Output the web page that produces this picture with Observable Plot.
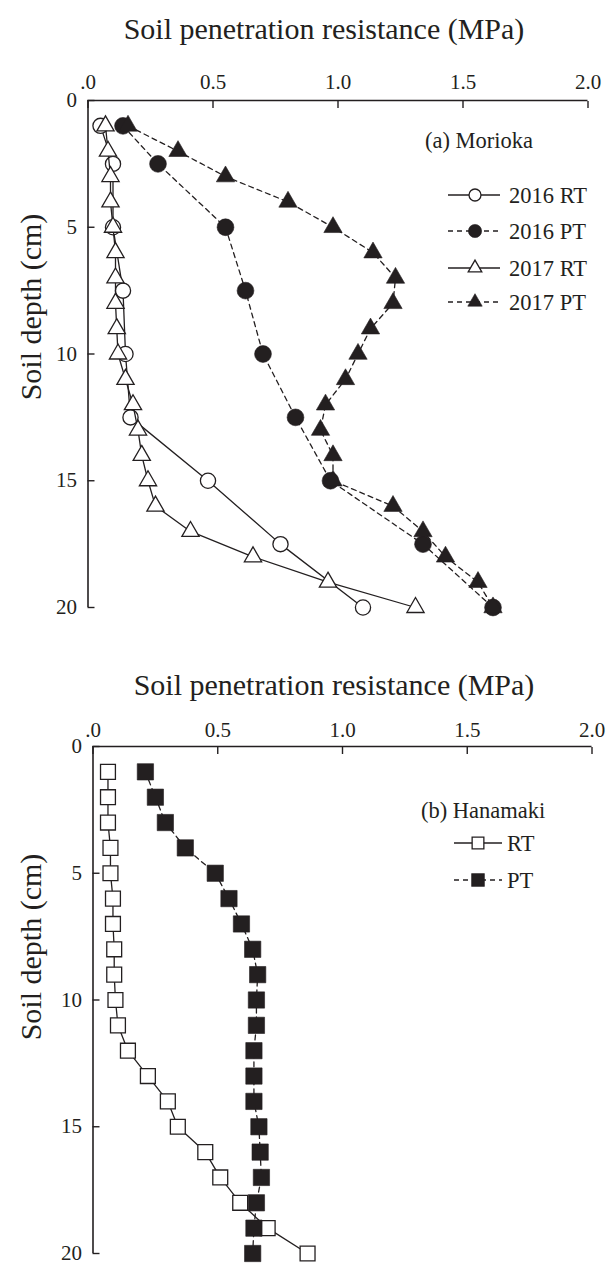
<!DOCTYPE html>
<html><head><meta charset="utf-8">
<script src="https://cdn.jsdelivr.net/npm/d3@7"></script>
<script src="https://cdn.jsdelivr.net/npm/@observablehq/plot@0.6"></script>
<style>
html,body{margin:0;padding:0;background:#fff;}
#wrap{position:relative;width:606px;height:1263px;overflow:hidden;font-family:"Liberation Serif","Times New Roman",serif;color:#231f20;}
.title{position:absolute;font-size:30px;white-space:nowrap;transform:translateX(-50%);line-height:1;}
.ylab{position:absolute;font-size:30px;white-space:nowrap;transform:translate(-50%,-50%) rotate(-90deg);line-height:1;}
.panel{position:absolute;left:0;}
svg text{font-family:"Liberation Serif","Times New Roman",serif;}
</style></head><body><div id="wrap"></div>
<script>
// ---- data ----
const xTicks = [0, 0.5, 1, 1.5, 2];
const xTickLabels = [".0", "0.5", "1.0", "1.5", "2.0"];
const yTicks = [0, 5, 10, 15, 20];
const xTitle = "Soil penetration resistance (MPa)";
const yTitle = "Soil depth (cm)";

// (a) Morioka
const depth2016 = [1, 2.5, 5, 7.5, 10, 12.5, 15, 17.5, 20];
const rt2016 = [0.05, 0.10, 0.10, 0.14, 0.15, 0.17, 0.48, 0.77, 1.10];
const pt2016 = [0.14, 0.28, 0.55, 0.63, 0.70, 0.83, 0.97, 1.34, 1.62];
const depth2017 = [1, 2, 3, 4, 5, 6, 7, 8, 9, 10, 11, 12, 13, 14, 15, 16, 17, 18, 19, 20];
const rt2017 = [0.07, 0.08, 0.09, 0.09, 0.10, 0.11, 0.11, 0.11, 0.115, 0.12, 0.15, 0.18, 0.20, 0.215, 0.24, 0.27, 0.41, 0.66, 0.96, 1.31];
const pt2017 = [0.16, 0.36, 0.55, 0.80, 0.98, 1.14, 1.23, 1.22, 1.13, 1.08, 1.03, 0.95, 0.93, 0.98, 0.98, 1.22, 1.34, 1.43, 1.56, 1.62];

// (b) Hanamaki
const depthH = [1, 2, 3, 4, 5, 6, 7, 8, 9, 10, 11, 12, 13, 14, 15, 16, 17, 18, 19, 20];
const rtH = [0.06, 0.06, 0.06, 0.07, 0.07, 0.08, 0.08, 0.085, 0.085, 0.09, 0.10, 0.14, 0.22, 0.30, 0.34, 0.45, 0.51, 0.59, 0.70, 0.86];
const ptH = [0.21, 0.25, 0.29, 0.37, 0.49, 0.545, 0.595, 0.64, 0.66, 0.655, 0.655, 0.645, 0.645, 0.645, 0.665, 0.67, 0.675, 0.655, 0.645, 0.64];

const panelATitle = "(a) Morioka";
const panelBTitle = "(b) Hanamaki";
const seriesA = [
  {label: "2016 RT", depth: depth2016, values: rt2016, symbol: "circle", filled: false, dashed: false},
  {label: "2016 PT", depth: depth2016, values: pt2016, symbol: "circle", filled: true, dashed: true},
  {label: "2017 RT", depth: depth2017, values: rt2017, symbol: "triangle", filled: false, dashed: false},
  {label: "2017 PT", depth: depth2017, values: pt2017, symbol: "triangle", filled: true, dashed: true}
];
const seriesB = [
  {label: "RT", depth: depthH, values: rtH, symbol: "square", filled: false, dashed: false},
  {label: "PT", depth: depthH, values: ptH, symbol: "square", filled: true, dashed: true}
];

// ---- styling ----
const INK = "#231f20";
const FONT = "'Liberation Serif','Times New Roman',serif";
const DASH = "5,4";
const R = {circle: {open: 7.6, filled: 8.4}, triangle: {open: 6.4, filled: 6.8}, square: {open: 8.4, filled: 9.2}};
const D3SYM = {circle: d3.symbolCircle, triangle: d3.symbolTriangle, square: d3.symbolSquare};

function rowsOf(s) { return s.depth.map((d, i) => ({depth: d, value: s.values[i]})); }

function seriesMarks(series) {
  const marks = [];
  for (const s of series) {
    const data = rowsOf(s);
    marks.push(Plot.line(data, {x: "value", y: "depth", stroke: INK, strokeWidth: 1.3, strokeDasharray: s.dashed ? DASH : null}));
    marks.push(Plot.dot(data, {x: "value", y: "depth", symbol: s.symbol,
      r: s.filled ? R[s.symbol].filled : R[s.symbol].open,
      fill: s.filled ? INK : "white", stroke: INK, strokeWidth: s.filled ? 0.6 : 1.3}));
  }
  return marks;
}

function makePanel(series, opts) {
  return Plot.plot({
    width: 606, height: opts.height,
    marginTop: opts.mt, marginBottom: opts.mb, marginLeft: opts.ml, marginRight: opts.mr,
    x: {domain: [0, 2]},
    y: {domain: [0, 20], reverse: true},
    style: {fontFamily: FONT, fontSize: "21px", color: INK, background: "white", overflow: "visible"},
    marks: [
      Plot.ruleY([0], {stroke: INK, strokeWidth: 1.6}),
      Plot.ruleX([0], {stroke: INK, strokeWidth: 1.6}),
      Plot.axisX(xTicks, {anchor: "top", tickSize: 7, dy: 7, tickFormat: () => "", label: null, strokeWidth: 1.4}),
      Plot.axisX(xTicks, {anchor: "top", tickSize: 0, tickPadding: opts.xPad, tickFormat: d => xTickLabels[xTicks.indexOf(d)], label: null, fill: INK}),
      Plot.axisY(yTicks, {anchor: "left", tickSize: 7, dx: 7, tickFormat: () => "", label: null, strokeWidth: 1.4}),
      Plot.axisY(yTicks, {anchor: "left", tickSize: 0, tickPadding: 11, tickFormat: d => String(d), label: null, fill: INK}),
      ...seriesMarks(series)
    ]
  });
}

function addLegend(svg, series, L) {
  const g = d3.select(svg).append("g").attr("font-family", FONT).attr("font-size", "22.5px")
    .attr("fill", INK).attr("text-anchor", "start");
  g.append("text").attr("x", L.titleX).attr("y", L.titleY).attr("dy", "0.35em").text(L.title);
  series.forEach((s, i) => {
    const y = L.rowY[i];
    g.append("line").attr("x1", L.x1).attr("x2", L.x2).attr("y1", y).attr("y2", y)
      .attr("stroke", INK).attr("stroke-width", 1.3).attr("stroke-dasharray", s.dashed ? DASH : null);
    const r = s.filled ? R[s.symbol].filled : R[s.symbol].open;
    g.append("path").attr("d", d3.symbol().type(D3SYM[s.symbol]).size(Math.PI * r * r * 0.62)())
      .attr("transform", `translate(${L.mx},${y})`)
      .attr("fill", s.filled ? INK : "white").attr("stroke", INK).attr("stroke-width", s.filled ? 0.6 : 1.3);
    g.append("text").attr("x", L.tx).attr("y", y).attr("dy", "0.35em").text(s.label);
  });
}

const wrap = document.getElementById("wrap");

// Panel (a)
const a = makePanel(seriesA, {height: 640, mt: 100, mb: 33, ml: 87.5, mr: 18.5, xPad: 12});
a.classList.add("panel"); a.style.top = "0px";
addLegend(a, seriesA, {title: panelATitle, titleX: 425, titleY: 140, x1: 448, x2: 500, mx: 475, tx: 509, rowY: [195, 231, 268, 302]});
wrap.appendChild(a);

// Panel (b)
const b = makePanel(seriesB, {height: 623, mt: 106, mb: 10, ml: 92.5, mr: 14.5, xPad: 10});
b.classList.add("panel"); b.style.top = "640px";
addLegend(b, seriesB, {title: panelBTitle, titleX: 421, titleY: 170, x1: 454, x2: 502, mx: 478, tx: 507, rowY: [203, 240]});
wrap.appendChild(b);

// Titles and y labels (HTML text)
function addDiv(cls, text, left, top) {
  const d = document.createElement("div");
  d.className = cls; d.textContent = text;
  d.style.left = left + "px"; d.style.top = top + "px";
  wrap.appendChild(d);
}
addDiv("title", xTitle, 324, 14);
addDiv("title", xTitle, 334, 670);
addDiv("ylab", yTitle, 31, 307);
addDiv("ylab", yTitle, 31, 947);
</script></body></html>
